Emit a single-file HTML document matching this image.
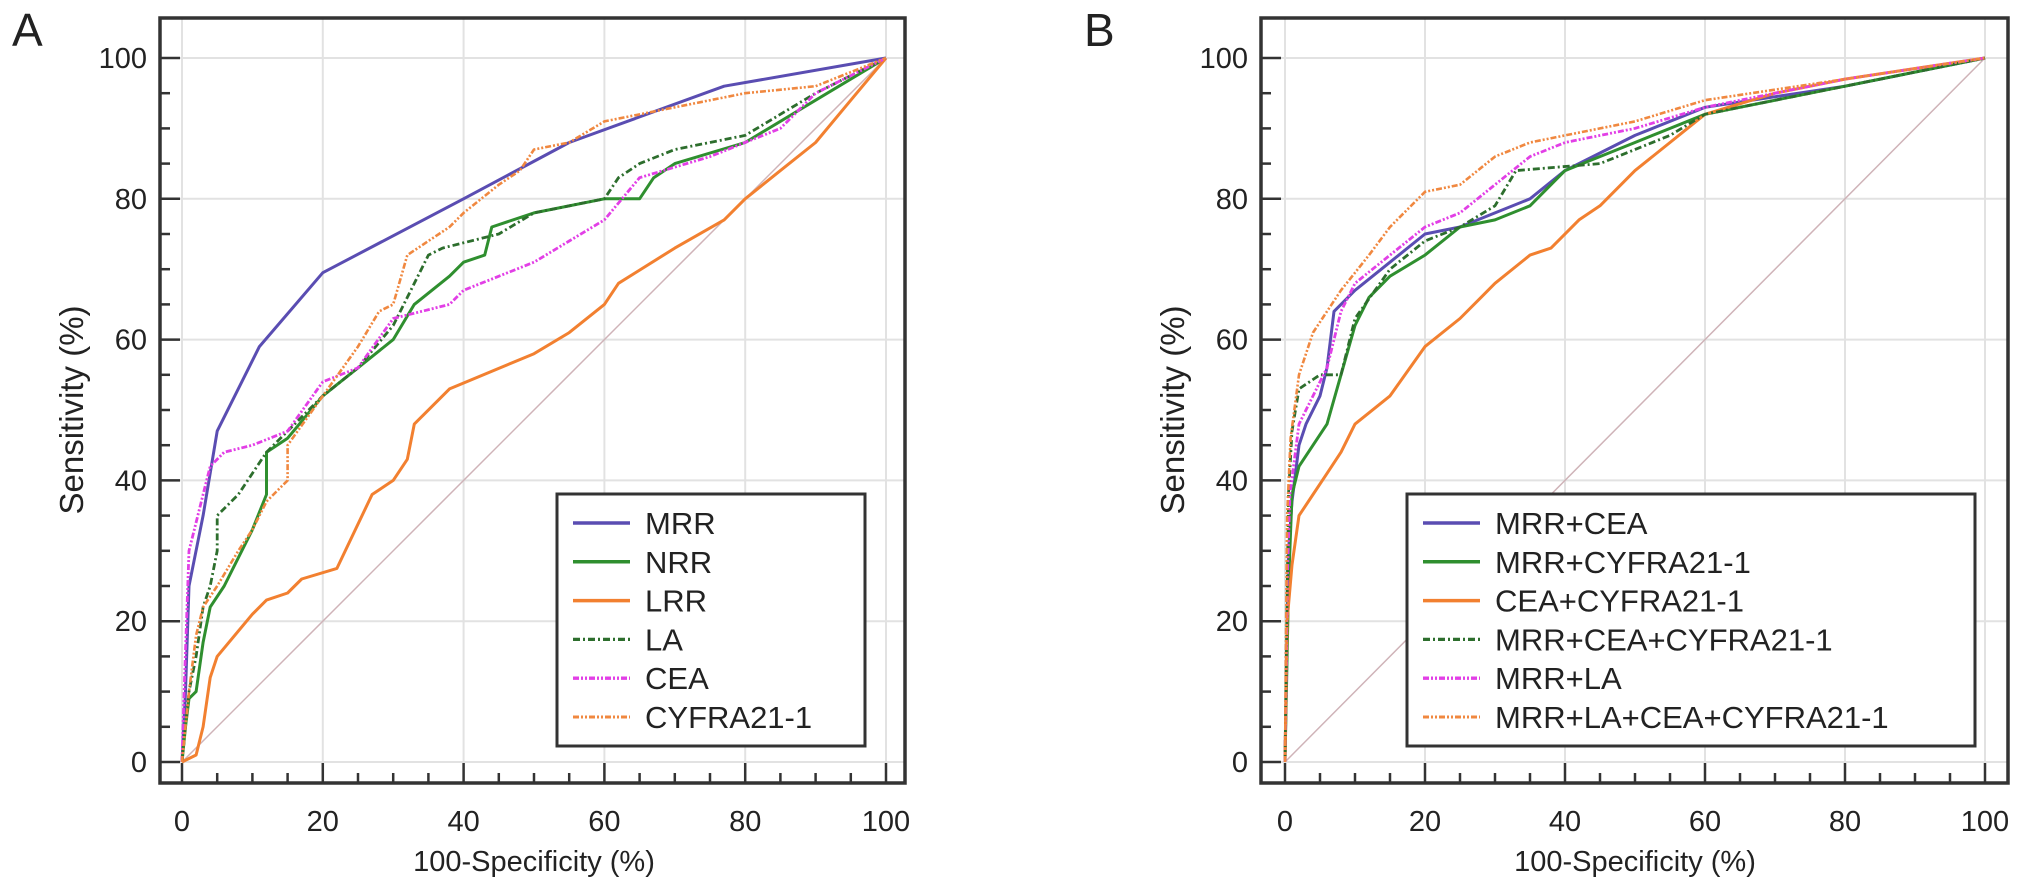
<!DOCTYPE html>
<html><head><meta charset="utf-8"><style>
html,body{margin:0;padding:0;background:#fff;}
svg{display:block;font-family:"Liberation Sans",Arial,sans-serif;}
</style></head><body>
<svg id="chart" width="2032" height="891" viewBox="0 0 2032 891"></svg>
<script>
// ---- Panel A data ----
const seriesNamesA = ["MRR","NRR","LRR","LA","CEA","CYFRA21-1"];
const mrrX = [0,0.5,1,3,5,11,20,40,55,77,100];
const mrrY = [0,10,25,35,47,59,69.5,80,88,96,100];
const nrrX = [0,0.5,1,2,3,4,6,8,10,12,12,15,20,25,30,33,38,40,43,44,50,60,65,67,70,80,90,100];
const nrrY = [0,5,9,10,17,22,25,29,33,38,44,46,52,56,60,65,69,71,72,76,78,80,80,83,85,88,94,100];
const lrrX = [0,2,3,4,5,10,12,15,17,22,27,30,32,33,38,50,55,60,62,70,77,80,85,90,95,100];
const lrrY = [0,1,5,12,15,21,23,24,26,27.5,38,40,43,48,53,58,61,65,68,73,77,80,84,88,94,100];
const laX = [0,0.5,1,2,3,4,5,5,8,12,15,20,25,30,32,35,37,45,50,60,62,65,70,80,90,100];
const laY = [0,5,10,15,22,25,30,35,38,44,47,52,56,62,66,72,73,75,78,80,83,85,87,89,95,100];
const ceaX = [0,0.3,1,3,4,6,10,15,20,25,30,38,40,50,55,60,65,75,85,90,100];
const ceaY = [0,10,30,38,42,44,45,47,54,56,63,65,67,71,74,77,83,86,90,95,100];
const cyfX = [0,1,2,3,5,8,10,12,15,15,20,25,28,30,32,35,38,40,45,48,50,55,60,70,80,90,100];
const cyfY = [0,10,18,22,25,30,33,37,40,45,52,59,64,65,72,74,76,78,82,84,87,88,91,93,95,96,100];
// ---- Panel B data ----
const seriesNamesB = ["MRR+CEA","MRR+CYFRA21-1","CEA+CYFRA21-1","MRR+CEA+CYFRA21-1","MRR+LA","MRR+LA+CEA+CYFRA21-1"];
const mcX = [0,0.3,0.5,1,2,3,5,6,7,10,15,20,25,30,35,40,50,60,80,100];
const mcY = [0,19,30,37,45,48,52,56,64,67,71,75,76,78,80,84,89,93,96,100];
const mcyX = [0,0.5,1,2,4,6,8,10,12,15,20,25,30,35,40,50,60,80,100];
const mcyY = [0,25,38,42,45,48,55,62,66,69,72,76,77,79,84,88,92,96,100];
const ccX = [0,0.3,1,2,4,6,8,10,15,20,25,28,30,35,38,42,45,50,55,60,70,80,100];
const ccY = [0,20,28,35,38,41,44,48,52,59,63,66,68,72,73,77,79,84,88,92,95,97,100];
const mccX = [0,0.5,1,2,5,8,10,15,20,25,30,33,45,55,60,80,100];
const mccY = [0,38,47,53,55,55,63,70,74,76,79,84,85,89,92,96,100];
const mlX = [0,0.3,0.7,2,4,6,8,10,15,20,25,30,35,40,50,60,80,100];
const mlY = [0,25,38,48,52,56,64,68,72,76,78,82,86,88,90,93,97,100];
const mlccX = [0,0.3,0.8,2,4,6,8,12,15,20,25,30,35,40,50,60,80,100];
const mlccY = [0,35,46,55,61,64,67,72,76,81,82,86,88,89,91,94,97,100];
const ticks = [0,20,40,60,80,100];

const NS="http://www.w3.org/2000/svg";
const svg=document.getElementById('chart');
function mk(tag,attrs,parent){const e=document.createElementNS(NS,tag);for(const k in attrs)e.setAttribute(k,attrs[k]);(parent||svg).appendChild(e);return e;}

const colors=["#5a4db2","#2f8f2f","#f28030","#2d6e2d","#e23fe6","#f08840"];
const dashes=["","","","7,3,2,3","6,2,2,2,2,2","6,2,2,2,2,2"];
const widths=[3,3,3,2.8,2.8,2.6];

function panel(cfg,letter,names,xs,ys){
  const X=v=>cfg.x0+v*cfg.sx;
  const Y=v=>762-v*7.04;
  const FL=cfg.fl, FR=cfg.fr, FT=18, FB=783;
  const g=mk('g',{});
  
  
  ticks.forEach(t=>{
    const gl=mk('line',{x1:X(t),x2:X(t),y1:FT,y2:FB,stroke:'#e2e2e2','stroke-width':2},g);
    
    
    const gh=mk('line',{x1:FL,x2:FR,y1:Y(t),y2:Y(t),stroke:'#e2e2e2','stroke-width':2},g);
    
    
  });
  const d=mk('line',{x1:X(0),y1:Y(0),x2:X(100),y2:Y(100),stroke:'#cfb3b8','stroke-width':1.5},g);
  
  
  for(let t=0;t<=100;t+=5){
    const major=t%20===0;const L=major?20:10;
    const tx=mk('line',{x1:X(t),x2:X(t),y1:FB,y2:FB-L,stroke:'#333','stroke-width':2.5},g);
    
    
    const ty=mk('line',{x1:FL,x2:FL+L,y1:Y(t),y2:Y(t),stroke:'#333','stroke-width':2.5},g);
    
    
  }
  ticks.forEach(t=>{
    const a=mk('text',{x:X(t),y:831,'font-size':29,'text-anchor':'middle',fill:'#222'},g);a.textContent=t;
    
    
    const b=mk('text',{x:FL-13,y:Y(t)+10,'font-size':29,'text-anchor':'end',fill:'#222'},g);b.textContent=t;
    
    
  });
  xs.forEach((xa,i)=>{
    const pts=xa.map((x,j)=>X(x).toFixed(1)+','+Y(ys[i][j]).toFixed(1)).join(' ');
    const p=mk('polyline',{points:pts,fill:'none',stroke:colors[i],'stroke-width':widths[i],'stroke-dasharray':dashes[i]||'none','stroke-linejoin':'round'},g);
    
    
  });
  const f=mk('rect',{x:FL,y:FT,width:FR-FL,height:FB-FT,fill:'none',stroke:'#333','stroke-width':3.5},g);
  
  
  const lx=cfg.lx;
  const lg=mk('g',{},g);
  
  
  mk('rect',{x:lx,y:494,width:cfg.lw,height:252,fill:'#fff',stroke:'#333','stroke-width':3},lg);
  names.forEach((n,i)=>{
    const yy=523+i*38.8;
    const e=mk('g',{},lg);
    
    
    mk('line',{x1:lx+16,x2:lx+73,y1:yy,y2:yy,stroke:colors[i],'stroke-width':widths[i]+0.5,'stroke-dasharray':dashes[i]||'none'},e);
    const t=mk('text',{x:lx+88,y:yy+11,'font-size':31,fill:'#222'},e);t.textContent=n;
  });
  const pl=mk('text',{x:cfg.plx,y:46,'font-size':46,fill:'#222'},g);pl.textContent=letter;
  
  
  const xt=mk('text',{x:X(50),y:871,'font-size':29,'text-anchor':'middle',fill:'#222'},g);xt.textContent='100-Specificity (%)';
  
  
  const yt=mk('text',{x:0,y:0,'font-size':33,'text-anchor':'middle',fill:'#222',transform:`translate(${FL-77},${Y(50)}) rotate(-90)`},g);yt.textContent='Sensitivity (%)';
  
  
}
panel({x0:182,sx:7.04,fl:160,fr:905,lx:557,lw:308,plx:12},'A',seriesNamesA,[mrrX,nrrX,lrrX,laX,ceaX,cyfX],[mrrY,nrrY,lrrY,laY,ceaY,cyfY]);
panel({x0:1285,sx:7.0,fl:1261,fr:2008,lx:1407,lw:568,plx:1084},'B',seriesNamesB,[mcX,mcyX,ccX,mccX,mlX,mlccX],[mcY,mcyY,ccY,mccY,mlY,mlccY]);
</script>
</body></html>
